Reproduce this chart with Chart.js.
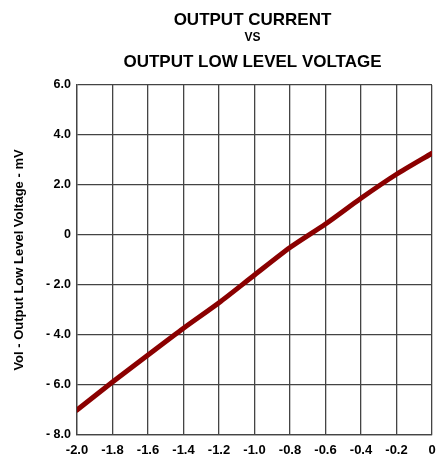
<!DOCTYPE html>
<html lang="en">
<head>
    <meta charset="UTF-8">
    <title>Output Current vs Output Low Level Voltage</title>
    <script src="https://cdn.jsdelivr.net/npm/chart.js"></script>
    <style>
        html, body { margin: 0; padding: 0; background: #fff; }
        #wrap { width: 437px; height: 459px; }
    </style>
</head>
<body>
    <div id="wrap"><canvas id="chart"></canvas></div>

    <script>
        // Output current (mA) and Vol (mV)
        const currents = [-2.0, -1.8, -1.6, -1.4, -1.2, -1.0, -0.8, -0.6, -0.4, -0.2, 0];
        const voltages = [-7.0, -5.88, -4.8, -3.73, -2.71, -1.6, -0.5, 0.44, 1.47, 2.43, 3.27];

        const titleLines = ['OUTPUT CURRENT', 'VS', 'OUTPUT LOW LEVEL VOLTAGE'];
        const yAxisTitle = 'Vol - Output Low Level Voltage - mV';

        const FONT = "'Liberation Sans', Arial, sans-serif";
        const GRID = '#444';

        // three line heading, centred over the plot area
        const stackedTitle = {
            id: 'stackedTitle',
            afterDraw(chart) {
                const { ctx, chartArea } = chart;
                const cx = (chartArea.left + chartArea.right) / 2 - 2;
                ctx.save();
                ctx.fillStyle = '#000';
                ctx.textAlign = 'center';
                ctx.textBaseline = 'middle';
                ctx.font = 'bold 17px ' + FONT;
                ctx.fillText(titleLines[0], cx, 20);
                ctx.font = 'bold 12px ' + FONT;
                ctx.fillText(titleLines[1], cx, 38);
                ctx.font = 'bold 17px ' + FONT;
                ctx.fillText(titleLines[2], cx, 62);
                ctx.restore();
            }
        };

        function fmtX(v) {
            if (Math.abs(v) < 1e-9) return '0';
            return v.toFixed(1);
        }
        function fmtY(v) {
            if (Math.abs(v) < 1e-9) return '0';
            return v < 0 ? '- ' + Math.abs(v).toFixed(1) : v.toFixed(1);
        }

        new Chart(document.getElementById('chart'), {
            type: 'line',
            data: {
                datasets: [{
                    data: currents.map((x, i) => ({ x: x, y: voltages[i] })),
                    borderColor: '#8b0000',
                    borderWidth: 5,
                    pointRadius: 0,
                    tension: 0.25,
                    borderCapStyle: 'round',
                    fill: false
                }]
            },
            options: {
                responsive: true,
                maintainAspectRatio: false,
                animation: false,
                layout: { padding: { top: 85, right: 5, bottom: 0, left: 0 } },
                plugins: {
                    legend: { display: false },
                    tooltip: { enabled: false },
                    title: { display: false }
                },
                scales: {
                    x: {
                        type: 'linear',
                        min: -2,
                        max: 0,
                        afterFit(scale) { scale.height = 24; },
                        grid: { color: GRID, lineWidth: 1.3, drawTicks: false },
                        border: { color: GRID, width: 1.3 },
                        ticks: {
                            stepSize: 0.2,
                            padding: 0,
                            maxRotation: 0,
                            autoSkip: false,
                            color: '#000',
                            // tall line box pushes the labels below the axis
                            font: { family: FONT, size: 13, weight: 'bold', lineHeight: 2.3 },
                            callback: fmtX
                        }
                    },
                    y: {
                        min: -8,
                        max: 6,
                        afterFit(scale) { scale.width = 77; },
                        grid: { color: GRID, lineWidth: 1.3, drawTicks: false },
                        border: { color: GRID, width: 1.3 },
                        ticks: {
                            stepSize: 2,
                            padding: 6,
                            color: '#000',
                            font: { family: FONT, size: 12.5, weight: 'bold' },
                            callback: fmtY
                        },
                        title: {
                            display: true,
                            text: yAxisTitle,
                            color: '#000',
                            padding: { top: 12, bottom: 0 },
                            font: { family: FONT, size: 13, weight: 'bold' }
                        }
                    }
                }
            },
            plugins: [stackedTitle]
        });
    </script>
</body>
</html>
